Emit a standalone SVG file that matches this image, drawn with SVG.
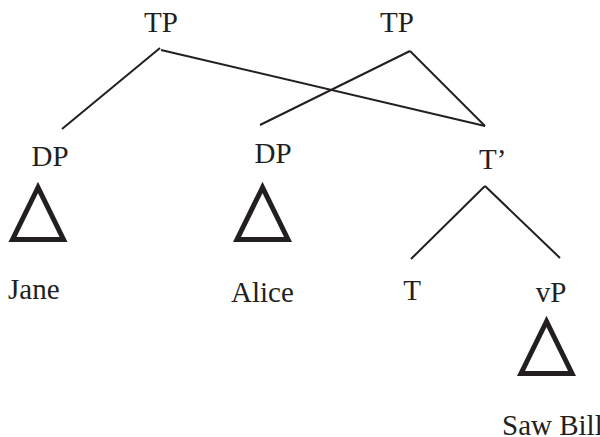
<svg xmlns="http://www.w3.org/2000/svg" width="600" height="437" viewBox="0 0 600 437">
<defs>
<style>
text{font-family:"Liberation Serif","Times New Roman",serif;font-size:29px;fill:#231f20}
.edge{stroke:#231f20;stroke-width:2;fill:none}
.tri{stroke:#231f20;stroke-width:5;fill:none;stroke-linejoin:miter;stroke-miterlimit:10}
</style>
<polygon id="triangle" class="tri" points="0,0 -25.5,52 25.5,52"/>
</defs>
<rect width="600" height="437" fill="#fff"/>
<g id="connectors">
<line class="edge" x1="160" y1="48" x2="62" y2="129"/>
<line class="edge" x1="161" y1="50" x2="485" y2="126"/>
<line class="edge" x1="410" y1="51" x2="260" y2="125"/>
<line class="edge" x1="410" y1="51" x2="485" y2="126"/>
<line class="edge" x1="485" y1="186" x2="411" y2="259"/>
<line class="edge" x1="485" y1="186" x2="560" y2="258"/>
</g>
<g id="tp1"><text x="161" y="32" text-anchor="middle">TP</text></g>
<g id="tp2"><text x="397" y="32" text-anchor="middle">TP</text></g>
<g id="dp1"><text x="50" y="166" text-anchor="middle">DP</text><use href="#triangle" x="38" y="187.5"/></g>
<g id="dp2"><text x="273" y="163" text-anchor="middle">DP</text><use href="#triangle" x="262.5" y="187.5"/></g>
<g id="tbar"><text x="479" y="169">T’</text></g>
<g id="t"><text x="412" y="300" text-anchor="middle">T</text></g>
<g id="vp"><text x="551" y="302" text-anchor="middle">vP</text><use href="#triangle" x="546.5" y="321.5"/></g>
<g id="jane"><text x="8" y="299">Jane</text></g>
<g id="alice"><text x="231" y="302">Alice</text></g>
<g id="sawbill"><text x="502" y="435">Saw Bill</text></g>
</svg>
